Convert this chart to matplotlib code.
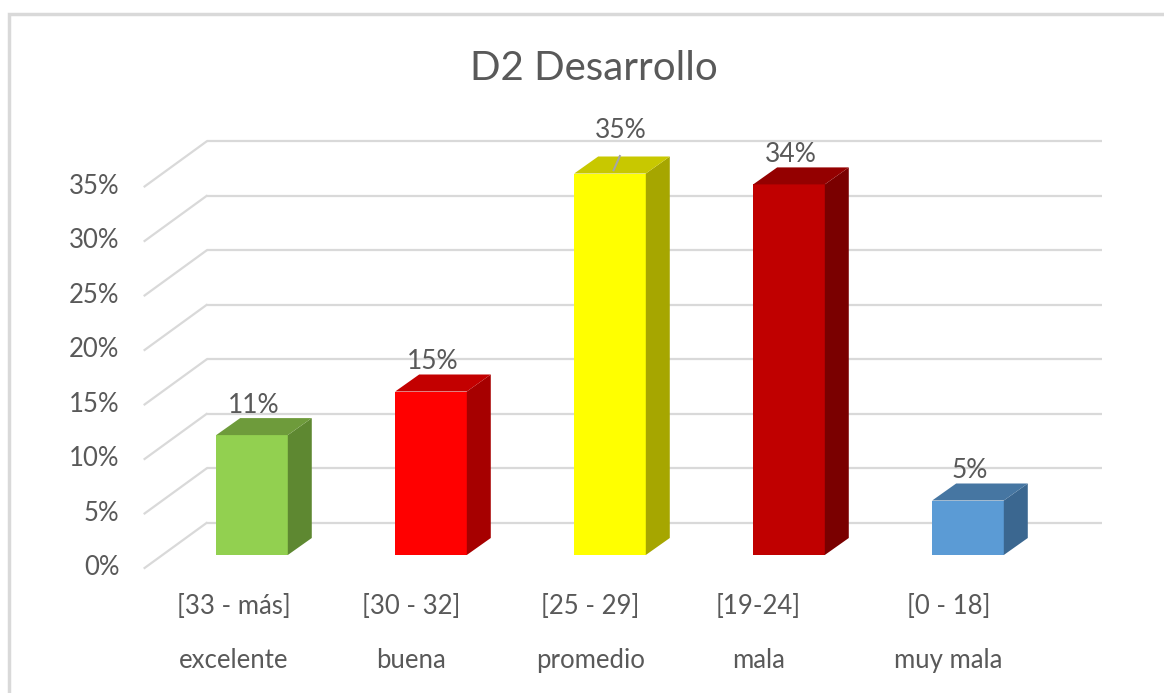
import matplotlib
matplotlib.use("Agg")
import matplotlib.pyplot as plt
from matplotlib.patches import Polygon, Rectangle

plt.rcParams['font.family'] = ['Lato', 'DejaVu Sans']

# data
rangos = ["[33 - más]", "[30 - 32]", "[25 - 29]", "[19-24]", "[0 - 18]"]
niveles = ["excelente", "buena", "promedio", "mala", "muy mala"]
valores = [11, 15, 35, 34, 5]
ticks = [0, 5, 10, 15, 20, 25, 30, 35]

col_front = ["#92D050", "#FF0000", "#FFFF00", "#C00000", "#5B9BD5"]
col_side = ["#5E8831", "#A60000", "#A6A600", "#7A0000", "#3B6790"]
col_top = ["#6E9B3B", "#C30000", "#C8C800", "#940000", "#4676A2"]

txt = "#595959"
grid = "#D9D9D9"

# fake 3d offsets (data units)
back_dx, back_dy = 0.246, 2.94
front_dx, front_dy = -0.10, -1.19
dep_dx, dep_dy = 0.134, 1.56
w = 0.40

fig = plt.figure(figsize=(11.64, 6.93), dpi=100)
ax = fig.add_axes([0, 0, 1, 1])
ax.set_xlim(-252 / 179, (1164 - 252) / 179)
ax.set_ylim((555 - 693) / 10.9, 555 / 10.9)
ax.axis('off')

# border of the chart area
fig.patches.append(Rectangle((9 / 1164, -0.1), 1.2, 1 - 14 / 693 + 0.1,
                             transform=fig.transFigure, fill=False,
                             edgecolor=grid, linewidth=2.5))

# gridlines: back wall + floor diagonals
x0, x1 = -0.5, 4.5
for v in ticks:
    ax.plot([x0 + back_dx, x1 + back_dx], [v + back_dy, v + back_dy],
            color=grid, lw=1.6, zorder=1, solid_capstyle='butt')
    ax.plot([x0 + front_dx, x0 + back_dx], [v + front_dy, v + back_dy],
            color=grid, lw=1.6, zorder=1)
    ax.text(x0 + front_dx - 0.14, v + front_dy, f"{v}%", ha='right',
            va='center', fontsize=18.5, color=txt)

# bars
xs = list(range(len(valores)))
ax.bar(xs, valores, width=w, color=col_front, zorder=3)
for i, v in zip(xs, valores):
    r = i + w / 2
    l = i - w / 2
    ax.add_patch(Polygon([(r, 0), (r + dep_dx, dep_dy), (r + dep_dx, v + dep_dy), (r, v)],
                         closed=True, facecolor=col_side[i], edgecolor='none', zorder=3))
    ax.add_patch(Polygon([(l, v), (l + dep_dx, v + dep_dy), (r + dep_dx, v + dep_dy), (r, v)],
                         closed=True, facecolor=col_top[i], edgecolor='none', zorder=3))
    if v == max(valores):
        ax.text(i + 0.06, v + 3.9, f"{v}%", ha='center', va='center', fontsize=19, color=txt)
        ax.plot([i + 0.02, i + 0.055], [v + 0.3, v + 1.6], color="#A6A6A6", lw=1.5, zorder=4)
    else:
        ax.text(i + 0.01, v + dep_dy + 1.2, f"{v}%", ha='center', va='center',
                fontsize=19, color=txt)

# category labels (two lines)
lab_dx = [-0.1, -0.11, -0.11, -0.17, -0.11]
for i in xs:
    ax.text(i + lab_dx[i], -4.68, rangos[i], ha='center', va='center', fontsize=18.5, color=txt)
    ax.text(i + lab_dx[i], -9.72, niveles[i], ha='center', va='center', fontsize=18.5, color=txt)

fig.text(594 / 1164, 1 - 68 / 693, "D2 Desarrollo", ha='center', va='center',
         fontsize=29, color=txt)

fig.savefig("out.png", dpi=100)
